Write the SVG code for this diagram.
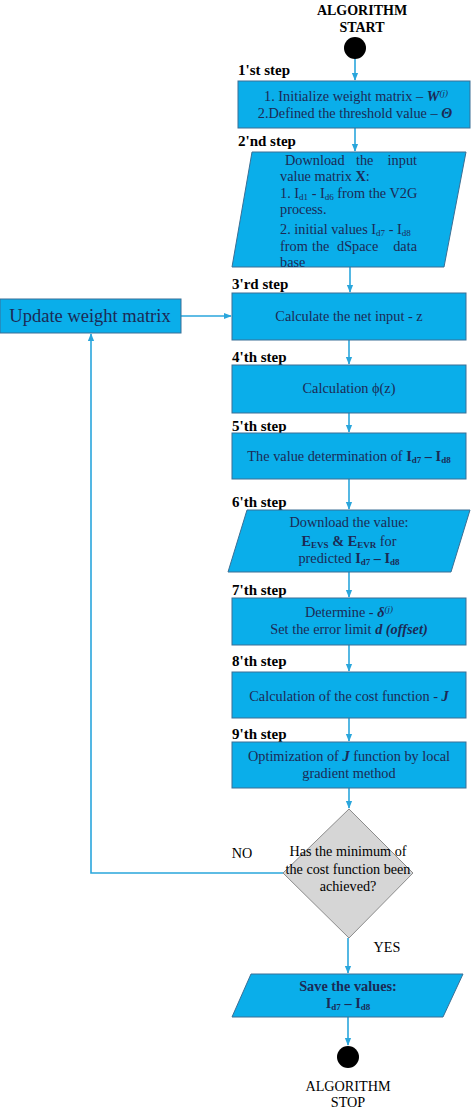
<svg xmlns="http://www.w3.org/2000/svg" width="474" height="1111" viewBox="0 0 474 1111">
<defs>
<style>
.box{fill:#0aaeea;stroke:#3a6f95;stroke-width:1}
.dia{fill:#d6d6d6;stroke:#8c8c8c;stroke-width:1}
.con{stroke:#2aa6dc;stroke-width:1.6;fill:none}
.t{font-family:"Liberation Serif",serif;font-size:14.3px;fill:#1c2a55}
.c{text-anchor:middle}
.step{font-family:"Liberation Serif",serif;font-size:15px;font-weight:bold;fill:#000}
.blk{font-family:"Liberation Serif",serif;font-size:14.2px;fill:#000}
.sub{font-size:9px}
</style>
<marker id="ar" viewBox="0 0 10 10" refX="9" refY="5" markerWidth="5" markerHeight="5" orient="auto">
<path d="M0,1 L10,5 L0,9 z" fill="#2aa6dc"/>
</marker>
</defs>

<g id="connectors">
<line class="con" x1="355" y1="58" x2="355" y2="80" marker-end="url(#ar)"/>
<line class="con" x1="355" y1="128" x2="355" y2="151" marker-end="url(#ar)"/>
<line class="con" x1="350" y1="267" x2="350" y2="292" marker-end="url(#ar)"/>
<line class="con" x1="181" y1="316" x2="231" y2="316" marker-end="url(#ar)"/>
<line class="con" x1="349" y1="340" x2="349" y2="364" marker-end="url(#ar)"/>
<line class="con" x1="349" y1="413" x2="349" y2="432" marker-end="url(#ar)"/>
<line class="con" x1="349" y1="479" x2="349" y2="509" marker-end="url(#ar)"/>
<line class="con" x1="349" y1="572" x2="349" y2="597" marker-end="url(#ar)"/>
<line class="con" x1="349" y1="645" x2="349" y2="671" marker-end="url(#ar)"/>
<line class="con" x1="349" y1="718" x2="349" y2="741" marker-end="url(#ar)"/>
<line class="con" x1="349" y1="788" x2="349" y2="808" marker-end="url(#ar)"/>
<polyline class="con" points="283,873 91,873 91,334" marker-end="url(#ar)"/>
<line class="con" x1="348" y1="938" x2="348" y2="973" marker-end="url(#ar)"/>
<line class="con" x1="348" y1="1017" x2="348" y2="1045" marker-end="url(#ar)"/>
</g>

<g id="start">
<text class="step c" x="362" y="15" style="font-size:14px">ALGORITHM</text>
<text class="step c" x="362" y="32" style="font-size:14px">START</text>
<circle cx="355" cy="48" r="11" fill="#000"/>
</g>

<g id="step1">
<text class="step" x="238" y="75">1'st step</text>
<rect class="box" x="238" y="81" width="232" height="47"/>
<text class="t c" x="356" y="101">1. Initialize weight matrix – <tspan font-weight="bold" font-style="italic">W</tspan><tspan class="sub" dy="-5" font-style="italic">(j)</tspan></text>
<text class="t c" x="355" y="118">2.Defined the threshold value – <tspan font-weight="bold" font-style="italic">Θ</tspan></text>
</g>

<g id="step2">
<text class="step" x="238" y="146">2'nd step</text>
<polygon class="box" points="252,152 466,152 444,267 232,267"/>
<text class="t" x="285" y="165">Download</text>
<text class="t" x="356" y="165">the</text>
<text class="t" x="417" y="165" text-anchor="end">input</text>
<text class="t" x="280" y="181">value matrix <tspan font-weight="bold">X</tspan>:</text>
<text class="t" x="280" y="198">1. I<tspan class="sub" dy="2">d1</tspan><tspan dy="-2"> - I</tspan><tspan class="sub" dy="2">d6</tspan><tspan dy="-2"> from the V2G</tspan></text>
<text class="t" x="280" y="214">process.</text>
<text class="t" x="280" y="234">2. initial values I<tspan class="sub" dy="2">d7</tspan><tspan dy="-2"> - I</tspan><tspan class="sub" dy="2">d8</tspan></text>
<text class="t" x="280" y="251">from</text>
<text class="t" x="312" y="251">the</text>
<text class="t" x="337" y="251">dSpace</text>
<text class="t" x="417" y="251" text-anchor="end">data</text>
<text class="t" x="280" y="267">base</text>
</g>

<g id="update">
<rect class="box" x="0" y="299" width="181" height="34"/>
<text class="t c" x="90" y="322" style="font-size:18.5px">Update weight matrix</text>
</g>

<g id="step3">
<text class="step" x="232" y="289">3'rd step</text>
<rect class="box" x="232" y="293" width="234" height="47"/>
<text class="t c" x="349" y="321">Calculate the net input - z</text>
</g>

<g id="step4">
<text class="step" x="232" y="362">4'th step</text>
<rect class="box" x="232" y="365" width="234" height="48"/>
<text class="t c" x="349" y="393">Calculation ϕ(z)</text>
</g>

<g id="step5">
<text class="step" x="232" y="431">5'th step</text>
<rect class="box" x="232" y="433" width="234" height="46"/>
<text class="t c" x="349" y="461">The value determination of <tspan font-weight="bold">I</tspan><tspan class="sub" font-weight="bold" dy="2">d7</tspan><tspan font-weight="bold" dy="-2"> – I</tspan><tspan class="sub" font-weight="bold" dy="2">d8</tspan></text>
</g>

<g id="step6">
<text class="step" x="232" y="507">6'th step</text>
<polygon class="box" points="247,510 470,510 451,572 228,572"/>
<text class="t c" x="349" y="527">Download the value:</text>
<text class="t c" x="349" y="546"><tspan font-weight="bold">E</tspan><tspan class="sub" font-weight="bold" dy="2">EVS</tspan><tspan font-weight="bold" dy="-2"> &amp; E</tspan><tspan class="sub" font-weight="bold" dy="2">EVR</tspan><tspan dy="-2"> for</tspan></text>
<text class="t c" x="349" y="563">predicted <tspan font-weight="bold">I</tspan><tspan class="sub" font-weight="bold" dy="2">d7</tspan><tspan font-weight="bold" dy="-2"> – I</tspan><tspan class="sub" font-weight="bold" dy="2">d8</tspan></text>
</g>

<g id="step7">
<text class="step" x="232" y="595">7'th step</text>
<rect class="box" x="232" y="598" width="234" height="47"/>
<text class="t c" x="349" y="617">Determine -  <tspan font-weight="bold" font-style="italic">δ</tspan><tspan class="sub" font-style="italic" dy="-5">(j)</tspan></text>
<text class="t c" x="349" y="634">Set the error limit <tspan font-weight="bold" font-style="italic">d (offset)</tspan></text>
</g>

<g id="step8">
<text class="step" x="232" y="666">8'th step</text>
<rect class="box" x="232" y="672" width="234" height="46"/>
<text class="t c" x="349" y="701">Calculation of the cost function - <tspan font-weight="bold" font-style="italic">J</tspan></text>
</g>

<g id="step9">
<text class="step" x="232" y="739">9'th step</text>
<rect class="box" x="232" y="742" width="234" height="46"/>
<text class="t c" x="349" y="761">Optimization of <tspan font-weight="bold" font-style="italic">J</tspan> function by local</text>
<text class="t c" x="349" y="778">gradient method</text>
</g>

<g id="decision">
<polygon class="dia" points="349,809 413,873 349,938 283,873"/>
<text class="blk c" x="348" y="856">Has the minimum of</text>
<text class="blk c" x="348" y="874">the cost function been</text>
<text class="blk c" x="348" y="891">achieved?</text>
<text class="blk c" x="242" y="858">NO</text>
<text class="blk c" x="387" y="952">YES</text>
</g>

<g id="save">
<polygon class="box" points="251,974 463,974 443,1017 232,1017"/>
<text class="t c" x="348" y="991" font-weight="bold">Save the values:</text>
<text class="t c" x="348" y="1008" font-weight="bold">I<tspan class="sub" dy="2">d7</tspan><tspan dy="-2"> – I</tspan><tspan class="sub" dy="2">d8</tspan></text>
</g>

<g id="stop">
<circle cx="348" cy="1057" r="11" fill="#000"/>
<text class="blk c" x="348" y="1091">ALGORITHM</text>
<text class="blk c" x="348" y="1107">STOP</text>
</g>
</svg>
